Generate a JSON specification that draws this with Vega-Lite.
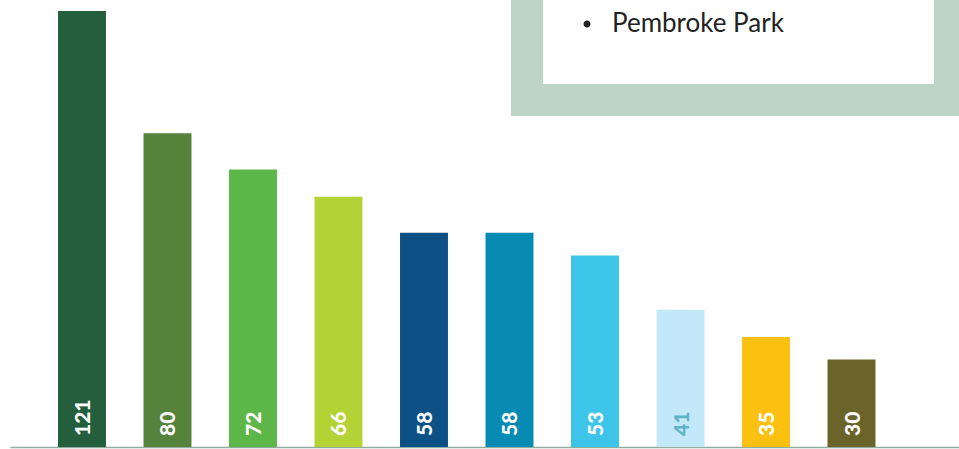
{
  "$schema": "https://vega.github.io/schema/vega-lite/v6.json",
  "width": 949,
  "height": 436,
  "autosize": "none",
  "padding": {"left": 10, "top": 11, "right": 0, "bottom": 2},
  "background": "white",
  "config": {"view": {"stroke": null}, "legend": {"strokeWidth": 32}},
  "data": {
    "values": [
      {"category": "1", "value": 121, "place": "Pembroke Park"},
      {"category": "2", "value": 80, "place": "Pembroke Park"},
      {"category": "3", "value": 72, "place": "Pembroke Park"},
      {"category": "4", "value": 66, "place": "Pembroke Park"},
      {"category": "5", "value": 58, "place": "Pembroke Park"},
      {"category": "6", "value": 58, "place": "Pembroke Park"},
      {"category": "7", "value": 53, "place": "Pembroke Park"},
      {"category": "8", "value": 41, "place": "Pembroke Park"},
      {"category": "9", "value": 35, "place": "Pembroke Park"},
      {"category": "10", "value": 30, "place": "Pembroke Park"}
    ]
  },
  "encoding": {
    "x": {
      "field": "category",
      "type": "nominal",
      "sort": null,
      "scale": {"type": "band", "paddingInner": 0.439, "paddingOuter": 0.769, "align": 0.365},
      "axis": {"title": null, "labels": false, "ticks": false, "domain": true, "domainColor": "#8FAC9E", "domainWidth": 1.5, "grid": false}
    }
  },
  "layer": [
    {
      "mark": {"type": "bar", "clip": true},
      "encoding": {
        "y": {
          "field": "value",
          "type": "quantitative",
          "scale": {"domain": [10.7, 107], "zero": false, "nice": false},
          "axis": null
        },
        "color": {
          "field": "category",
          "type": "nominal",
          "sort": null,
          "scale": {
            "domain": ["1", "2", "3", "4", "5", "6", "7", "8", "9", "10"],
            "range": ["#235E3D", "#55833C", "#5DB648", "#B3D335", "#0C5185", "#078BB3", "#3CC5E8", "#C3E8FA", "#FCC010", "#6A642A"]
          },
          "legend": null
        }
      }
    },
    {
      "mark": {"type": "text", "angle": 270, "align": "left", "baseline": "middle", "dx": 11, "dy": 2, "font": "Lato", "fontWeight": 900, "fontSize": 21},
      "encoding": {
        "y": {"datum": 10.7, "type": "quantitative"},
        "text": {"field": "value", "type": "quantitative"},
        "color": {"condition": {"test": "datum.value === 41", "value": "#5FB3C6"}, "value": "white"}
      }
    },
    {
      "mark": {"type": "point", "opacity": 0, "filled": true, "color": "#222222", "size": 50},
      "encoding": {
        "y": {"field": "value", "type": "quantitative"},
        "shape": {
          "field": "place",
          "type": "nominal",
          "scale": {"range": ["M-1,0A1,1,0,1,1,1,0A1,1,0,1,1,-1,0ZM87,5.8"]},
          "legend": {
            "title": null,
            "orient": "none",
            "legendX": 517,
            "legendY": -55,
            "padding": 55,
            "strokeColor": "#BCD5C7",
            "fillColor": "white",
            "symbolSize": 50,
            "symbolFillColor": "#222222",
            "symbolStrokeWidth": 0,
            "symbolOpacity": 1,
            "symbolOffset": -8,
            "labelFont": "Lato",
            "labelFontSize": 26,
            "labelColor": "#222222",
            "labelOffset": 12,
            "labelLimit": 400
          }
        }
      }
    }
  ]
}
